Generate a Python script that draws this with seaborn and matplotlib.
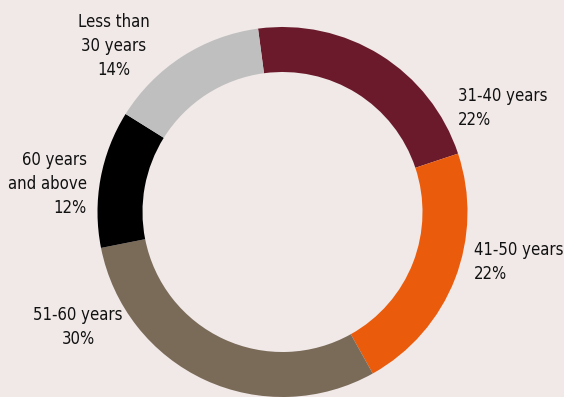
import numpy as np
import pandas as pd
import seaborn as sns
from matplotlib import pyplot as plt

sns.set_theme(style="white")
plt.rcParams['font.family'] = ['DejaVu Sans']

groups = ['31-40 years', '41-50 years', '51-60 years', '60 years\nand above', 'Less than\n30 years']
shares = [22, 22, 30, 12, 14]
colors = ['#6a1a2a', '#ea5b0c', '#7a6a58', '#000000', '#bfbfbf']

bg = '#f0e9e8'
fig = plt.figure(figsize=(5.64, 3.97), dpi=100, facecolor=bg)
ax = fig.add_axes([0, 0, 1, 1])
ax.set_facecolor(bg)

# donut, centre and radius in pixel units (y measured from bottom)
cx, cy, r = 282.5, 185, 185
ax.pie(shares, colors=colors, startangle=97.6, counterclock=False,
       center=(cx, cy), radius=r, frame=True,
       wedgeprops=dict(width=45, linewidth=0))

df = pd.DataFrame({'group': groups, 'share': shares})
# label positions (x, y from top, ha)
spots = [(458, 108, 'left'), (474, 262, 'left'), (78, 327, 'center'),
         (87, 184, 'right'), (114, 46, 'center')]
for (g, s), (x, y, ha) in zip(zip(df['group'], df['share']), spots):
    ax.text(x, 397 - y, f"{g}\n{s}%", ha=ha, va='center', multialignment=ha,
            fontsize=12, fontstretch='condensed', color='#111111', linespacing=1.4)

ax.set_xlim(0, 564)
ax.set_ylim(0, 397)
ax.set_aspect('equal')
ax.axis('off')
fig.savefig('out.png', dpi=100, facecolor=bg)
